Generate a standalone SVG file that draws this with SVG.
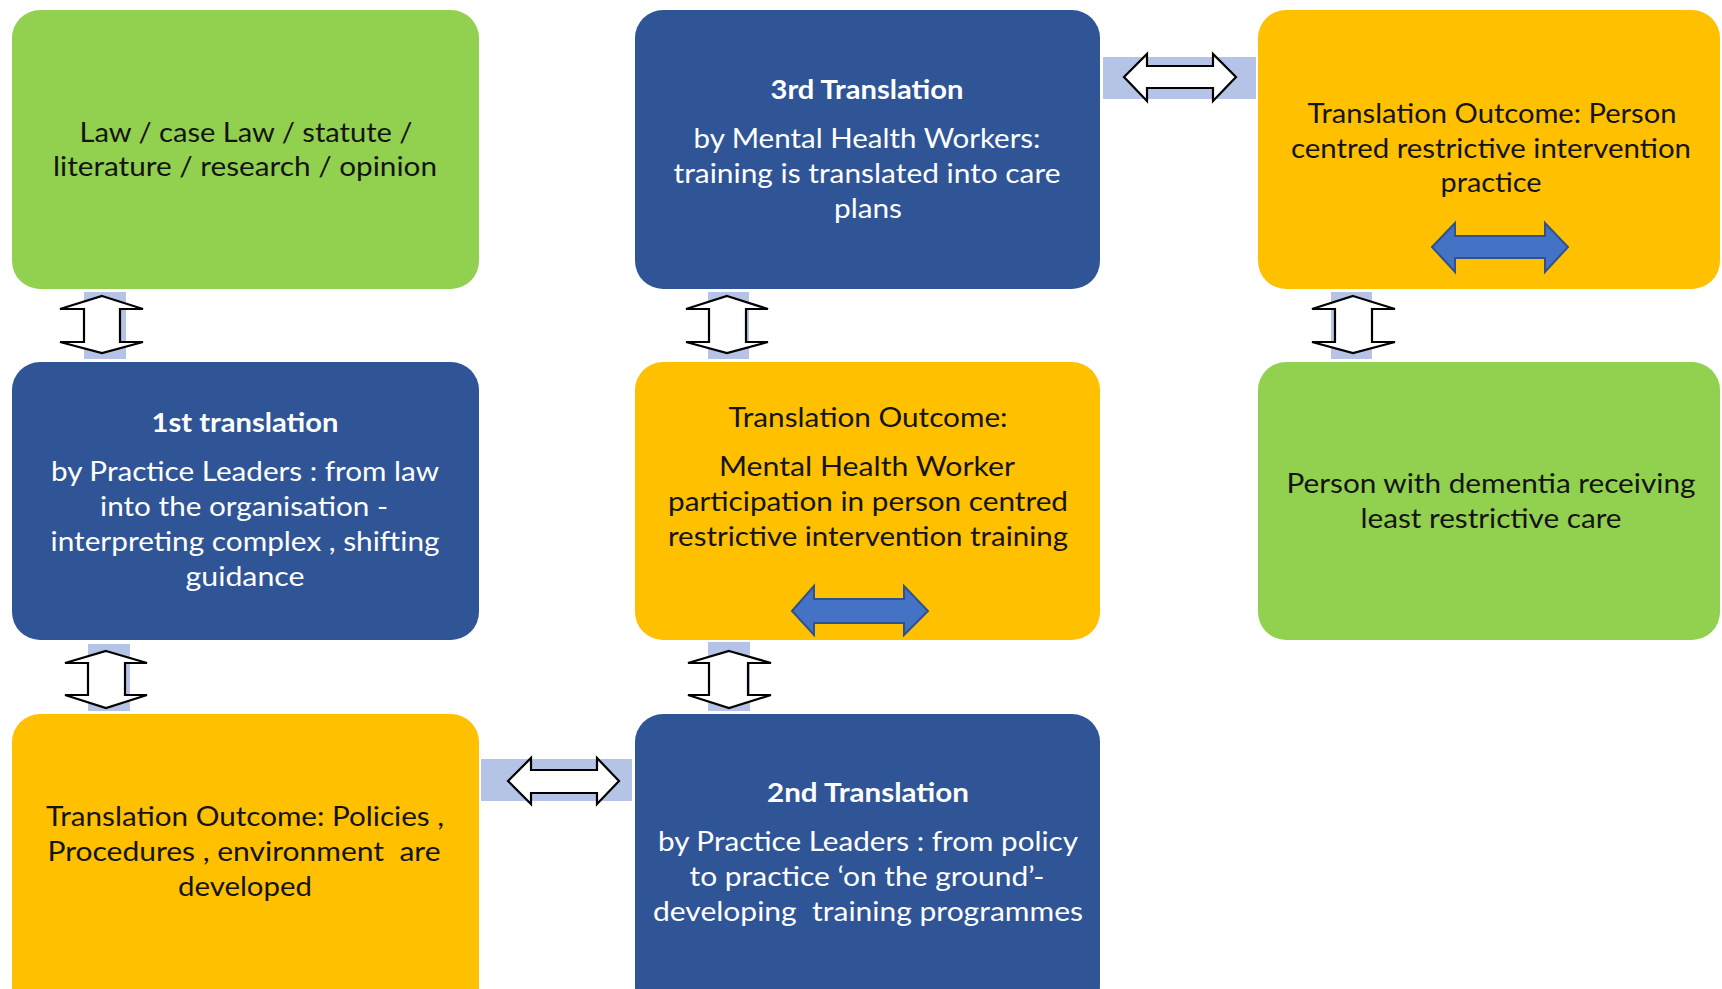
<svg xmlns="http://www.w3.org/2000/svg" width="1722" height="989" viewBox="0 0 1722 989">
<style>
.box{stroke:none}
.green{fill:#92D050}
.blue{fill:#2F5597}
.yellow{fill:#FFC000}
.t{font-family:Lato,"Open Sans","Liberation Sans",sans-serif;font-size:27px;text-anchor:middle}
.dark{fill:#141414}
.light{fill:#FFFFFF}
.b{font-weight:bold}
.band{fill:#B4C3E6}
.harrow{fill:#FFFFFF;stroke:#000000;stroke-width:2.2;stroke-linejoin:miter}
.barrow{fill:#4472C4;stroke:#2F528F;stroke-width:2}
</style>
<rect x="0" y="0" width="1722" height="989" fill="#FFFFFF"/>

<g id="connectors">
  <rect class="band" x="84" y="292" width="42" height="67"/>
  <polygon class="harrow" points="102,296 143,309 120,309 120,342 143,342 102,353 60,342 84,342 84,309 60,309"/>
  <rect class="band" x="708" y="292" width="41" height="67"/>
  <polygon class="harrow" points="727,296 768,309 746,309 746,342 768,342 727,353 686,342 709,342 709,309 686,309"/>
  <rect class="band" x="1331" y="292" width="41" height="67"/>
  <polygon class="harrow" points="1353,296 1395,309 1372,309 1372,342 1395,342 1353,353 1312,342 1335,342 1335,309 1312,309"/>
  <rect class="band" x="88" y="644" width="42" height="67"/>
  <polygon class="harrow" points="106,651 147,663 125,663 125,695 147,695 106,708 65,695 88,695 88,663 65,663"/>
  <rect class="band" x="708" y="642" width="42" height="69"/>
  <polygon class="harrow" points="729,651 771,663 748,663 748,695 771,695 729,708 688,695 709,695 709,663 688,663"/>
  <rect class="band" x="1103" y="57" width="153" height="42"/>
  <polygon class="harrow" points="1124,77 1147,54 1147,66 1213,66 1213,54 1236,77 1213,101 1213,88 1147,88 1147,101"/>
  <rect class="band" x="481" y="759" width="151" height="42"/>
  <polygon class="harrow" points="508,781 531,758 531,770 597,770 597,758 619,781 597,804 597,793 531,793 531,804"/>
</g>

<g id="node-law">
  <rect class="box green" x="12" y="10" width="467" height="279" rx="28"/>
  <text class="t dark" x="246" y="142" textLength="333" lengthAdjust="spacingAndGlyphs">Law / case Law / statute /</text>
  <text class="t dark" x="245" y="176" textLength="384" lengthAdjust="spacingAndGlyphs">literature / research / opinion</text>
</g>

<g id="node-3rd">
  <rect class="box blue" x="635" y="10" width="465" height="279" rx="28"/>
  <text class="t light b" x="867" y="99" textLength="193" lengthAdjust="spacingAndGlyphs">3rd Translation</text>
  <text class="t light" x="867" y="148" textLength="347" lengthAdjust="spacingAndGlyphs">by Mental Health Workers:</text>
  <text class="t light" x="867" y="183" textLength="387" lengthAdjust="spacingAndGlyphs">training is translated into care</text>
  <text class="t light" x="868" y="218" textLength="68" lengthAdjust="spacingAndGlyphs">plans</text>
</g>

<g id="node-outcome-practice">
  <rect class="box yellow" x="1258" y="10" width="462" height="279" rx="28"/>
  <text class="t dark" x="1492" y="123" textLength="369" lengthAdjust="spacingAndGlyphs">Translation Outcome: Person</text>
  <text class="t dark" x="1491" y="158" textLength="400" lengthAdjust="spacingAndGlyphs">centred restrictive intervention</text>
  <text class="t dark" x="1491" y="192" textLength="101" lengthAdjust="spacingAndGlyphs">practice</text>
  <polygon class="barrow" points="1432,247 1455,223 1455,236 1545,236 1545,223 1568,247 1545,272 1545,258 1455,258 1455,272"/>
</g>

<g id="node-1st">
  <rect class="box blue" x="12" y="362" width="467" height="278" rx="28"/>
  <text class="t light b" x="245" y="432" textLength="187" lengthAdjust="spacingAndGlyphs">1st translation</text>
  <text class="t light" x="245" y="481" textLength="388" lengthAdjust="spacingAndGlyphs">by Practice Leaders : from law</text>
  <text class="t light" x="244" y="516" textLength="288" lengthAdjust="spacingAndGlyphs">into the organisation -</text>
  <text class="t light" x="245" y="551" textLength="389" lengthAdjust="spacingAndGlyphs">interpreting complex , shifting</text>
  <text class="t light" x="245" y="586" textLength="119" lengthAdjust="spacingAndGlyphs">guidance</text>
</g>

<g id="node-outcome-training">
  <rect class="box yellow" x="635" y="362" width="465" height="278" rx="28"/>
  <text class="t dark" x="868" y="427" textLength="279" lengthAdjust="spacingAndGlyphs">Translation Outcome:</text>
  <text class="t dark" x="867" y="476" textLength="296" lengthAdjust="spacingAndGlyphs">Mental Health Worker</text>
  <text class="t dark" x="868" y="511" textLength="400" lengthAdjust="spacingAndGlyphs">participation in person centred</text>
  <text class="t dark" x="868" y="546" textLength="400" lengthAdjust="spacingAndGlyphs">restrictive intervention training</text>
  <polygon class="barrow" points="792,611 814,586 814,599 904,599 904,586 928,611 904,635 904,623 814,623 814,635"/>
</g>

<g id="node-person">
  <rect class="box green" x="1258" y="362" width="462" height="278" rx="28"/>
  <text class="t dark" x="1491" y="493" textLength="409" lengthAdjust="spacingAndGlyphs">Person with dementia receiving</text>
  <text class="t dark" x="1491" y="528" textLength="261" lengthAdjust="spacingAndGlyphs">least restrictive care</text>
</g>

<g id="node-outcome-policies">
  <rect class="box yellow" x="12" y="714" width="467" height="300" rx="28"/>
  <text class="t dark" x="245" y="826" textLength="398" lengthAdjust="spacingAndGlyphs">Translation Outcome: Policies ,</text>
  <text class="t dark" x="244" y="861" textLength="393" lengthAdjust="spacingAndGlyphs" xml:space="preserve">Procedures , environment  are</text>
  <text class="t dark" x="245" y="896" textLength="134" lengthAdjust="spacingAndGlyphs">developed</text>
</g>

<g id="node-2nd">
  <rect class="box blue" x="635" y="714" width="465" height="300" rx="28"/>
  <text class="t light b" x="868" y="802" textLength="202" lengthAdjust="spacingAndGlyphs">2nd Translation</text>
  <text class="t light" x="868" y="851" textLength="420" lengthAdjust="spacingAndGlyphs">by Practice Leaders : from policy</text>
  <text class="t light" x="867" y="886" textLength="355" lengthAdjust="spacingAndGlyphs">to practice ‘on the ground’-</text>
  <text class="t light" x="868" y="921" textLength="430" lengthAdjust="spacingAndGlyphs" xml:space="preserve">developing  training programmes</text>
</g>
</svg>
